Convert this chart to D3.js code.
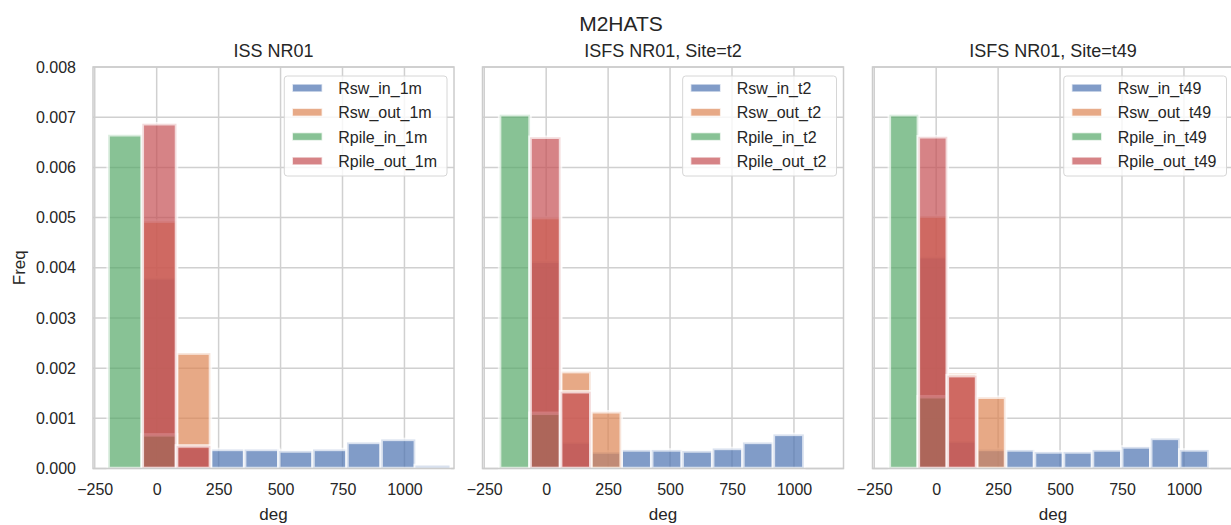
<!DOCTYPE html>
<html>
<head>
<meta charset="utf-8">
<script src="https://cdn.jsdelivr.net/npm/d3@7"></script>
<style>
    body { margin: 0; background: #fff; }
    text { font-family: "Liberation Sans", Arial, sans-serif; fill: #262626; }
</style>
</head>
<body>
<svg id="chart" width="1231" height="525"></svg>
<script>

// bin edges (deg) of each panel
const edges1 = [-196, -58, 80, 217, 355, 493, 631, 768, 906, 1044, 1182]
const edges2 = [-188, -65, 58, 180, 303, 426, 549, 672, 794, 917, 1040]
const edges3 = [-189, -72, 45, 163, 280, 397, 514, 631, 749, 866, 983, 1100]

// densities per bin, panel 1 (ISS NR01)
const rswIn1 = [0, 0.0038, 0.00042, 0.00038, 0.00038, 0.00035, 0.00038, 0.00052, 0.00058, 0.00006]
const rswOut1 = [0, 0.00493, 0.0023, 0, 0, 0, 0, 0, 0, 0]
const rpileIn1 = [0.00665, 0.00067, 0, 0, 0, 0, 0, 0, 0, 0]
const rpileOut1 = [0, 0.00687, 0.00045, 0, 0, 0, 0, 0, 0, 0]

// panel 2 (site t2)
const rswIn2 = [0, 0.00413, 0.00053, 0.00033, 0.00037, 0.00037, 0.00035, 0.0004, 0.00052, 0.00068]
const rswOut2 = [0, 0.0050, 0.00193, 0.00113, 0, 0, 0, 0, 0, 0]
const rpileIn2 = [0.00705, 0.0011, 0, 0, 0, 0, 0, 0, 0, 0]
const rpileOut2 = [0, 0.0066, 0.00153, 0, 0, 0, 0, 0, 0, 0]

// panel 3 (site t49)
const rswIn3 = [0, 0.00422, 0.00055, 0.00038, 0.00037, 0.00033, 0.00033, 0.00037, 0.00043, 0.0006, 0.00037]
const rswOut3 = [0, 0.00503, 0.0019, 0.00142, 0, 0, 0, 0, 0, 0, 0]
const rpileIn3 = [0.00705, 0.00143, 0, 0, 0, 0, 0, 0, 0, 0, 0]
const rpileOut3 = [0, 0.00661, 0.00185, 0, 0, 0, 0, 0, 0, 0, 0]

const names1 = ["Rsw_in_1m", "Rsw_out_1m", "Rpile_in_1m", "Rpile_out_1m"]
const names2 = ["Rsw_in_t2", "Rsw_out_t2", "Rpile_in_t2", "Rpile_out_t2"]
const names3 = ["Rsw_in_t49", "Rsw_out_t49", "Rpile_in_t49", "Rpile_out_t49"]

const titles = ["ISS NR01", "ISFS NR01, Site=t2", "ISFS NR01, Site=t49"]
const colors = ["#4c72b0", "#dd8452", "#55a868", "#c44e52"]
const xTicks = [-250, 0, 250, 500, 750, 1000]
const yTicks = [0, 0.001, 0.002, 0.003, 0.004, 0.005, 0.006, 0.007, 0.008]

const panels = [
    {title: titles[0], edges: edges1, series: [rswIn1, rswOut1, rpileIn1, rpileOut1], names: names1, left: 93},
    {title: titles[1], edges: edges2, series: [rswIn2, rswOut2, rpileIn2, rpileOut2], names: names2, left: 482.5},
    {title: titles[2], edges: edges3, series: [rswIn3, rswOut3, rpileIn3, rpileOut3], names: names3, left: 872.5}
]

const svg = d3.select("#chart")
const plotTop = 67, plotBottom = 468.5, plotW = 361
const gridColor = "#d0d0d0"

const y = d3.scaleLinear()
    .domain([0, 0.008])
    .range([plotBottom, plotTop])

// figure title
svg.append("text")
    .attr("x", 621).attr("y", 31)
    .attr("text-anchor", "middle")
    .attr("font-size", 21)
    .text("M2HATS")

panels.forEach(function (p, pi) {
    const x = d3.scaleLinear()
        .domain([-257, 1200])
        .range([p.left, p.left + plotW])
    const g = svg.append("g")

    // grid
    g.selectAll(null).data(xTicks).join("line")
        .attr("x1", d => x(d)).attr("x2", d => x(d))
        .attr("y1", plotTop).attr("y2", plotBottom)
        .attr("stroke", gridColor).attr("stroke-width", 1.5)
    g.selectAll(null).data(yTicks).join("line")
        .attr("x1", p.left).attr("x2", p.left + plotW)
        .attr("y1", d => y(d)).attr("y2", d => y(d))
        .attr("stroke", gridColor).attr("stroke-width", 1.5)

    // histograms, drawn in order so the later ones sit on top
    p.series.forEach(function (vals, si) {
        const bins = vals.map(function (v, i) {
            return {x0: p.edges[i], x1: p.edges[i + 1], v: v}
        }).filter(d => d.v > 0)

        g.selectAll(null).data(bins).join("rect")
            .attr("x", d => x(d.x0))
            .attr("width", d => x(d.x1) - x(d.x0))
            .attr("y", d => y(d.v))
            .attr("height", d => y(0) - y(d.v))
            .attr("fill", colors[si])
            .attr("fill-opacity", 0.7)
            .attr("stroke", "#fff")
            .attr("stroke-opacity", 0.7)
            .attr("stroke-width", 3.5)
    })

    // frame
    g.append("rect")
        .attr("x", p.left).attr("y", plotTop)
        .attr("width", plotW).attr("height", plotBottom - plotTop)
        .attr("fill", "none")
        .attr("stroke", "#cccccc").attr("stroke-width", 1.5)

    // x axis
    const xAxis = g.append("g")
        .attr("transform", "translate(0," + plotBottom + ")")
        .call(d3.axisBottom(x).tickValues(xTicks).tickFormat(d3.format("d")).tickSize(0).tickPadding(15))
    xAxis.select(".domain").remove()
    xAxis.selectAll("text")
        .attr("font-size", 16)
        .attr("font-family", "Liberation Sans, Arial, sans-serif")
        .attr("fill", "#262626")

    g.append("text")
        .attr("x", p.left + plotW / 2).attr("y", 520)
        .attr("text-anchor", "middle")
        .attr("font-size", 17)
        .text("deg")

    // y axis only on the first panel (shared y)
    if (pi == 0) {
        const yAxis = g.append("g")
            .attr("transform", "translate(" + p.left + ",0)")
            .call(d3.axisLeft(y).tickValues(yTicks).tickFormat(d3.format(".3f")).tickSize(0).tickPadding(17))
        yAxis.select(".domain").remove()
        yAxis.selectAll("text")
            .attr("font-size", 16)
            .attr("font-family", "Liberation Sans, Arial, sans-serif")
            .attr("fill", "#262626")

        g.append("text")
            .attr("transform", "translate(24.5," + (plotTop + plotBottom) / 2 + ") rotate(-90)")
            .attr("text-anchor", "middle")
            .attr("font-size", 17)
            .text("Freq")
    }

    // panel title
    g.append("text")
        .attr("x", p.left + plotW / 2).attr("y", 57)
        .attr("text-anchor", "middle")
        .attr("font-size", 18)
        .text(p.title)

    // legend
    const leg = g.append("g")
    const box = leg.append("rect")
    const rows = [21, 45.3, 69.6, 94]
    let maxW = 0
    p.names.forEach(function (name, i) {
        const t = leg.append("text")
            .attr("font-size", 16)
            .attr("y", plotTop + rows[i] + 6)
            .text(name)
        maxW = Math.max(maxW, t.node().getComputedTextLength())
    })
    const legW = 8 + 30 + 16 + maxW + 10
    const legRight = p.left + plotW - 7
    const legLeft = legRight - legW
    box.attr("x", legLeft).attr("y", plotTop + 9)
        .attr("width", legW).attr("height", 100)
        .attr("rx", 3)
        .attr("fill", "#fff").attr("fill-opacity", 0.8)
        .attr("stroke", "#d6d6d6").attr("stroke-width", 1)
    leg.selectAll("text").attr("x", legLeft + 54)
    p.names.forEach(function (name, i) {
        leg.append("rect")
            .attr("x", legLeft + 8).attr("y", plotTop + rows[i] - 4)
            .attr("width", 30).attr("height", 8)
            .attr("fill", colors[i]).attr("fill-opacity", 0.7)
            .attr("stroke", "#fff").attr("stroke-opacity", 0.7).attr("stroke-width", 1.5)
    })
})

</script>
</body>
</html>
